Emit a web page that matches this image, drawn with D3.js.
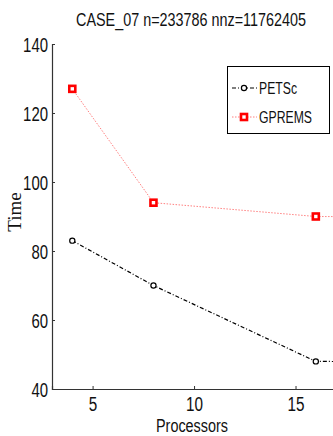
<!DOCTYPE html>
<html>
<head>
<meta charset="utf-8">
<script src="https://cdn.jsdelivr.net/npm/d3@7"></script>
<style>
  body { margin: 0; background: #fff; }
  svg { display: block; font-family: "Liberation Sans", Arial, sans-serif; }
</style>
</head>
<body>
<svg id="chart" width="333" height="436"></svg>
<script>
// values
var procs = [4, 8, 16, 32];
var petsc = [83, 70, 48, 47.5];
var gprems = [127, 94, 90, 89.5];
var yTicks = [40, 60, 80, 100, 120, 140];
var xTicks = [5, 10, 15];
var seriesNames = ["PETSc", "GPREMS"];

var svg = d3.select("#chart");

var x = d3.scaleLinear().domain([3, 20]).range([52, 397]);
var y = d3.scaleLinear().domain([40, 140]).range([389, 44]);

// narrow the glyphs so they look like the original condensed font
function squeeze(sel, perChar) {
	sel.each(function() {
		var t = d3.select(this);
		t.attr("textLength", t.text().length * perChar).attr("lengthAdjust", "spacingAndGlyphs");
	});
}

// title (scaled horizontally instead of textLength)
var title = svg.append("text")
	.attr("text-anchor", "middle")
	.attr("font-size", 18)
	.attr("fill", "#111")
	.text("CASE_07 n=233786 nnz=11762405");
var tw = title.node().getComputedTextLength();
title.attr("transform", "translate(191,26) scale(" + (230 / tw) + ",1)");

// axes, MATLAB style ticks pointing inwards
var yAxis = svg.append("g")
	.attr("transform", "translate(52,0)")
	.call(d3.axisLeft(y).tickValues(yTicks).tickSize(-3).tickPadding(4));
var xAxis = svg.append("g")
	.attr("transform", "translate(0,389)")
	.call(d3.axisBottom(x).tickValues(xTicks).tickSize(-3).tickPadding(6));

[yAxis, xAxis].forEach(function(ax) {
	ax.select(".domain").attr("stroke", "#333").attr("stroke-width", 1.2);
	ax.selectAll(".tick line").attr("stroke", "#333");
	ax.selectAll(".tick text")
		.attr("fill", "#111")
		.attr("font-size", 20)
		.attr("font-family", "Liberation Sans, Arial, sans-serif");
});
squeeze(yAxis.selectAll(".tick text"), 8.3);
squeeze(xAxis.selectAll(".tick text"), 8.5);
xAxis.selectAll(".tick text").attr("dy", "0.8em");
yAxis.selectAll(".tick text").attr("dy", "0.36em");

// axis labels
svg.append("text")
	.attr("x", 192)
	.attr("y", 432)
	.attr("text-anchor", "middle")
	.attr("font-size", 18)
	.attr("fill", "#111")
	.attr("textLength", 72)
	.attr("lengthAdjust", "spacingAndGlyphs")
	.text("Processors");

svg.append("text")
	.attr("transform", "translate(21,212) rotate(-90)")
	.attr("text-anchor", "middle")
	.attr("font-family", "Liberation Serif, Times New Roman, serif")
	.attr("font-size", 19)
	.attr("fill", "#111")
	.text("Time");

var line = d3.line()
	.x(function(d) { return x(d[0]); })
	.y(function(d) { return y(d[1]); });

var petscPts = procs.map(function(p, i) { return [p, petsc[i]]; });
var gpremsPts = procs.map(function(p, i) { return [p, gprems[i]]; });

var plot = svg.append("g");

// GPREMS: red dotted with square markers
plot.append("path")
	.datum(gpremsPts)
	.attr("fill", "none")
	.attr("stroke", "#f55")
	.attr("stroke-opacity", 0.75)
	.attr("stroke-width", 1)
	.attr("stroke-dasharray", "1.5,1.5")
	.attr("d", line);

plot.selectAll(".sq")
	.data(gpremsPts)
	.enter().append("rect")
	.attr("class", "sq")
	.attr("x", function(d) { return x(d[0]) - 3; })
	.attr("y", function(d) { return y(d[1]) - 3; })
	.attr("width", 6)
	.attr("height", 6)
	.attr("fill", "#fff")
	.attr("stroke", "red")
	.attr("stroke-width", 2.6);

// PETSc: black dash-dot with circle markers
plot.append("path")
	.datum(petscPts)
	.attr("fill", "none")
	.attr("stroke", "#000")
	.attr("stroke-width", 1.2)
	.attr("stroke-dasharray", "4,2,1,2")
	.attr("d", line);

plot.selectAll(".circ")
	.data(petscPts)
	.enter().append("circle")
	.attr("class", "circ")
	.attr("cx", function(d) { return x(d[0]); })
	.attr("cy", function(d) { return y(d[1]); })
	.attr("r", 2.6)
	.attr("fill", "#fff")
	.attr("stroke", "#000")
	.attr("stroke-width", 1.2);

// legend
var legend = svg.append("g");
legend.append("rect")
	.attr("x", 227.5)
	.attr("y", 66.5)
	.attr("width", 102)
	.attr("height", 67)
	.attr("fill", "#fff")
	.attr("stroke", "#000")
	.attr("stroke-width", 1);

var rowY = [88, 117];

legend.append("line")
	.attr("x1", 232).attr("x2", 257)
	.attr("y1", rowY[0]).attr("y2", rowY[0])
	.attr("stroke", "#000")
	.attr("stroke-width", 1.2)
	.attr("stroke-dasharray", "4,2,1,2");
legend.append("circle")
	.attr("cx", 244).attr("cy", rowY[0]).attr("r", 2.6)
	.attr("fill", "#fff").attr("stroke", "#000").attr("stroke-width", 1.2);

legend.append("line")
	.attr("x1", 232).attr("x2", 257)
	.attr("y1", rowY[1]).attr("y2", rowY[1])
	.attr("stroke", "#f55")
	.attr("stroke-opacity", 0.75)
	.attr("stroke-width", 1)
	.attr("stroke-dasharray", "1.5,1.5");
legend.append("rect")
	.attr("x", 241).attr("y", rowY[1] - 3).attr("width", 6).attr("height", 6)
	.attr("fill", "#fff").attr("stroke", "red").attr("stroke-width", 2.6);

legend.selectAll(".ltext")
	.data(seriesNames)
	.enter().append("text")
	.attr("class", "ltext")
	.attr("x", 259)
	.attr("y", function(d, i) { return rowY[i] + 5.5; })
	.attr("font-size", 16)
	.attr("fill", "#111")
	.attr("textLength", function(d, i) { return i == 0 ? 38 : 53; })
	.attr("lengthAdjust", "spacingAndGlyphs")
	.text(function(d) { return d; });
</script>
</body>
</html>
